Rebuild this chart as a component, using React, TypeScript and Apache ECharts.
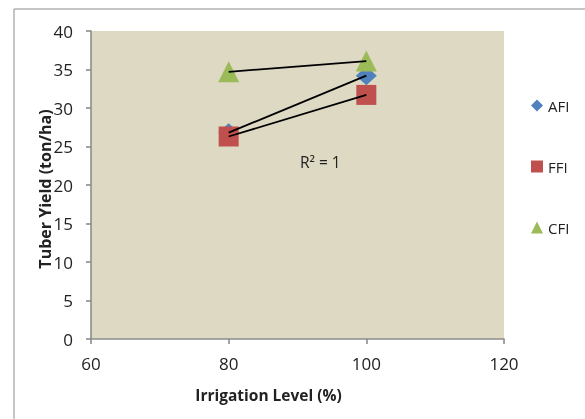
import React, { useEffect, useRef } from "react";
import * as echarts from "echarts";

const irrigation = [80, 100];
const afi = [26.8, 34.2];
const ffi = [26.3, 31.7];
const cfi = [34.7, 36.1];
const seriesNames = ["AFI", "FFI", "CFI"];
const xTicks = [60, 80, 100, 120];
const yTicks = [0, 5, 10, 15, 20, 25, 30, 35, 40];

const FONT = "'Open Sans', 'Noto Sans', sans-serif";

export default function App() {
  const ref = useRef<HTMLDivElement>(null);
  useEffect(() => {
    if (!ref.current) return;
    const chart = echarts.init(ref.current, null, { renderer: "svg" });
    const pts = (ys: number[]) => irrigation.map((x, i) => [x, ys[i]]);
    const colors = ["#4F81BD", "#C0504D", "#9BBB59"];
    const symbols = ["diamond", "rect", "triangle"];
    const sizes = [[21, 19], [20, 20], [21, 21]];
    const all = [afi, ffi, cfi];
    const scatter = all.map((ys, i) => ({
      name: seriesNames[i],
      type: "scatter",
      data: pts(ys),
      symbol: symbols[i],
      symbolSize: sizes[i],
      itemStyle: { color: colors[i], opacity: 1 },
      z: 2,
    }));
    const trends = all.map((ys, i) => ({
      name: seriesNames[i] + " trend",
      type: "line",
      data: pts(ys),
      symbol: "none",
      lineStyle: { color: "#000", width: 1.8 },
      z: 5,
      silent: true,
    }));
    chart.setOption({
      animation: false,
      graphic: [
        {
          type: "rect",
          shape: { x: 14, y: 9, width: 700, height: 600 },
          style: { fill: "#fff", stroke: "#8c8c8c", lineWidth: 1 },
          z: -10,
        },
        {
          type: "text",
          x: 300,
          y: 162,
          style: {
            text: "R² = 1",
            font: `15.5px ${FONT}`,
            fill: "#222",
            verticalAlign: "middle",
          },
          z: 10,
        },
      ],
      legend: {
        orient: "vertical",
        left: 531,
        top: 98,
        padding: 0,
        itemWidth: 12,
        itemHeight: 12,
        itemGap: 46,
        data: seriesNames.map((n, i) => ({ name: n, icon: symbols[i] })),
        textStyle: { fontFamily: FONT, fontSize: 15, color: "#222" },
      },
      grid: {
        left: 91,
        right: 81,
        top: 31,
        bottom: 80,
        show: true,
        backgroundColor: "#DDD9C3",
        borderWidth: 0,
      },
      xAxis: {
        type: "value",
        min: xTicks[0],
        max: xTicks[xTicks.length - 1],
        interval: 20,
        name: "Irrigation Level (%)",
        nameLocation: "middle",
        nameGap: 48,
        nameMoveOverlap: false,
        nameTextStyle: {
          fontFamily: FONT,
          fontSize: 15.5,
          fontWeight: "bold",
          color: "#222",
          padding: [0, 58, 0, 0],
        },
        axisLine: { show: true, lineStyle: { color: "#8c8c8c", width: 1.6 } },
        axisTick: { show: true, length: 5, lineStyle: { color: "#8c8c8c", width: 1.6 } },
        axisLabel: { fontFamily: FONT, fontSize: 17, color: "#222", margin: 16 },
        splitLine: { show: false },
      },
      yAxis: {
        type: "value",
        min: yTicks[0],
        max: yTicks[yTicks.length - 1],
        interval: 5,
        name: "Tuber Yield (ton/ha)",
        nameLocation: "middle",
        nameGap: 38,
        nameMoveOverlap: false,
        nameTextStyle: {
          fontFamily: FONT,
          fontSize: 16,
          fontWeight: "bold",
          color: "#222",
          padding: [0, 8, 0, 0],
        },
        axisLine: { show: true, lineStyle: { color: "#8c8c8c", width: 1.6 } },
        axisTick: { show: true, length: 5, lineStyle: { color: "#8c8c8c", width: 1.6 } },
        axisLabel: { fontFamily: FONT, fontSize: 17, color: "#222", margin: 18 },
        splitLine: { show: false },
      },
      series: [...scatter, ...trends],
    });
    return () => chart.dispose();
  }, []);
  return (
    <div
      ref={ref}
      style={{ position: "fixed", left: 0, top: 0, width: 585, height: 419 }}
    />
  );
}
